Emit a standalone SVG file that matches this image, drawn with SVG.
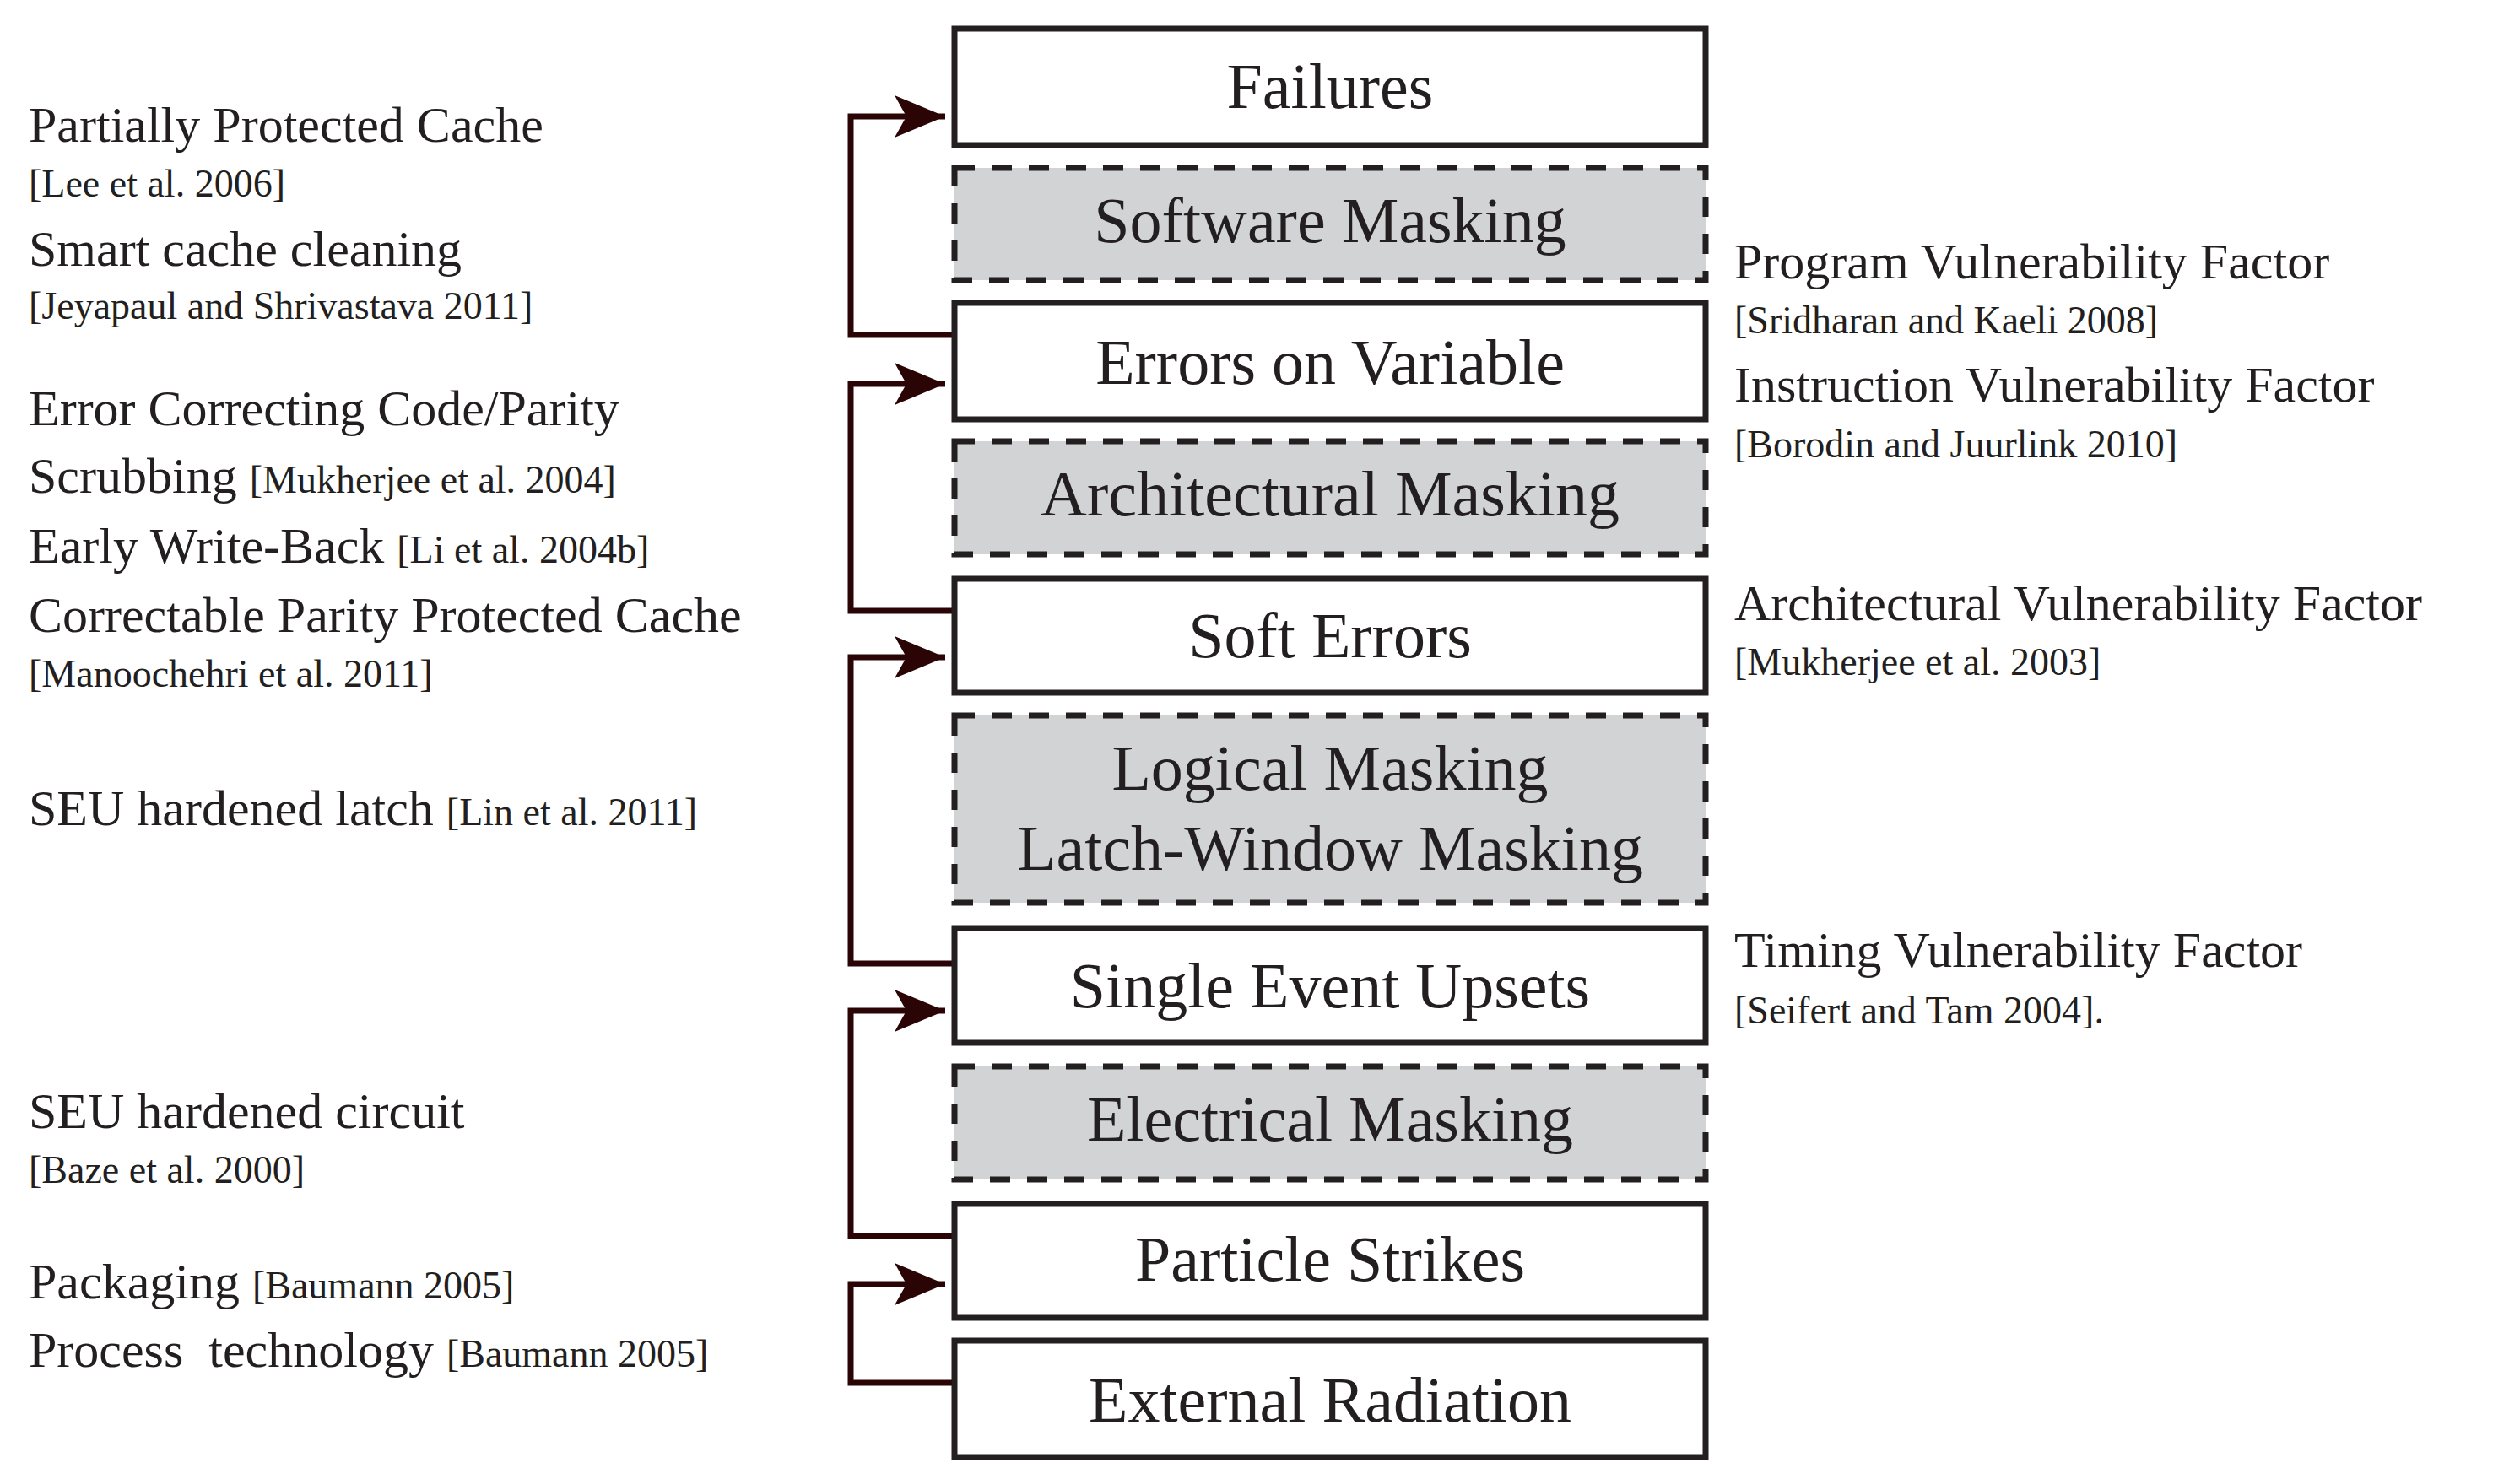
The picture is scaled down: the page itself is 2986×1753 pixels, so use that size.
<svg xmlns="http://www.w3.org/2000/svg" width="2986" height="1753" viewBox="0 0 2986 1753">
<style>
text{font-family:"Liberation Serif","Times New Roman",serif;fill:#231f20}
.b{font-size:60px}.s{font-size:46px}
.lbl{font-size:76px;text-anchor:middle}
.solid{fill:#fff;stroke:#231f20;stroke-width:7}
.mask{fill:#d1d3d4;stroke:#231f20;stroke-width:7;stroke-dasharray:24 20}
.c{fill:none;stroke:#2b0505;stroke-width:7}
</style>
<defs><marker id="ah" markerUnits="userSpaceOnUse" markerWidth="64" markerHeight="50" refX="60" refY="25" orient="auto"><path d="M0,0 L60,25 L0,50 L14,25 Z" fill="#2b0505"/></marker></defs>
<rect width="2986" height="1753" fill="#fff"/>
<g id="connectors">
<path class="c" d="M1131,397 H1008 V138 H1120" marker-end="url(#ah)"/>
<path class="c" d="M1131,724 H1008 V455 H1120" marker-end="url(#ah)"/>
<path class="c" d="M1131,1142 H1008 V779 H1120" marker-end="url(#ah)"/>
<path class="c" d="M1131,1465 H1008 V1198 H1120" marker-end="url(#ah)"/>
<path class="c" d="M1131,1639 H1008 V1522 H1120" marker-end="url(#ah)"/>
</g>
<g id="failures"><rect class="solid" x="1131" y="34" width="890" height="138"/><text class="lbl" x="1576" y="128">Failures</text></g>
<g id="software-masking"><rect class="mask" x="1131" y="199" width="890" height="133"/><text class="lbl" x="1576" y="287">Software Masking</text></g>
<g id="errors-on-variable"><rect class="solid" x="1131" y="359" width="890" height="138"/><text class="lbl" x="1576" y="455">Errors on Variable</text></g>
<g id="architectural-masking"><rect class="mask" x="1131" y="523" width="890" height="134"/><text class="lbl" x="1576" y="611">Architectural Masking</text></g>
<g id="soft-errors"><rect class="solid" x="1131" y="686" width="890" height="135"/><text class="lbl" x="1576" y="779">Soft Errors</text></g>
<g id="logical-masking"><rect class="mask" x="1131" y="848" width="890" height="222"/><text class="lbl" x="1576" y="936">Logical Masking</text><text class="lbl" x="1576" y="1031">Latch-Window Masking</text></g>
<g id="seu"><rect class="solid" x="1131" y="1100" width="890" height="136"/><text class="lbl" x="1576" y="1194">Single Event Upsets</text></g>
<g id="electrical-masking"><rect class="mask" x="1131" y="1264" width="890" height="134"/><text class="lbl" x="1576" y="1352">Electrical Masking</text></g>
<g id="particle-strikes"><rect class="solid" x="1131" y="1427" width="890" height="135"/><text class="lbl" x="1576" y="1518">Particle Strikes</text></g>
<g id="external-radiation"><rect class="solid" x="1131" y="1589" width="890" height="138"/><text class="lbl" x="1576" y="1685">External Radiation</text></g>
<g id="left-notes">
<text class="b" x="34" y="168">Partially Protected Cache</text>
<text class="s" x="34" y="233">[Lee et al. 2006]</text>
<text class="b" x="34" y="315">Smart cache cleaning</text>
<text class="s" x="34" y="378">[Jeyapaul and Shrivastava 2011]</text>
<text class="b" x="34" y="504">Error Correcting Code/Parity</text>
<text class="b" x="34" y="584">Scrubbing <tspan class="s">[Mukherjee et al. 2004]</tspan></text>
<text class="b" x="34" y="667">Early Write-Back <tspan class="s">[Li et al. 2004b]</tspan></text>
<text class="b" x="34" y="749">Correctable Parity Protected Cache</text>
<text class="s" x="34" y="814">[Manoochehri et al. 2011]</text>
<text class="b" x="34" y="978">SEU hardened latch <tspan class="s">[Lin et al. 2011]</tspan></text>
<text class="b" x="34" y="1337">SEU hardened circuit</text>
<text class="s" x="34" y="1402">[Baze et al. 2000]</text>
<text class="b" x="34" y="1539">Packaging <tspan class="s">[Baumann 2005]</tspan></text>
<text class="b" x="34" y="1620" xml:space="preserve">Process  technology <tspan class="s">[Baumann 2005]</tspan></text>
</g>
<g id="right-notes">
<text class="b" x="2055" y="330">Program Vulnerability Factor</text>
<text class="s" x="2055" y="395">[Sridharan and Kaeli 2008]</text>
<text class="b" x="2055" y="476">Instruction Vulnerability Factor</text>
<text class="s" x="2055" y="542">[Borodin and Juurlink 2010]</text>
<text class="b" x="2055" y="735">Architectural Vulnerability Factor</text>
<text class="s" x="2055" y="800">[Mukherjee et al. 2003]</text>
<text class="b" x="2055" y="1146">Timing Vulnerability Factor</text>
<text class="s" x="2055" y="1213">[Seifert and Tam 2004].</text>
</g>
</svg>
